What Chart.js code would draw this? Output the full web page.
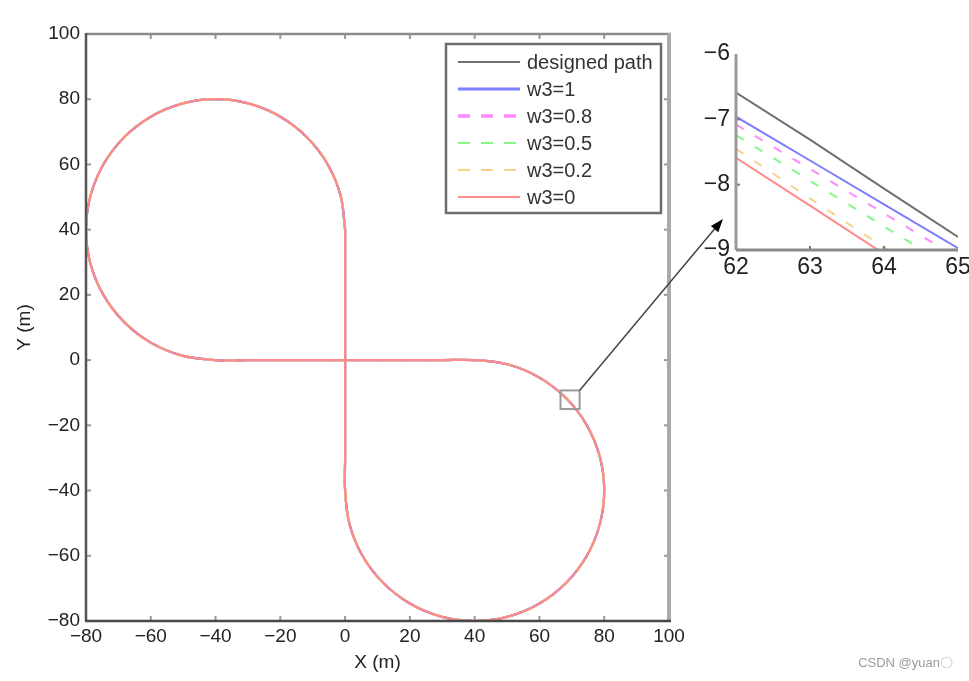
<!DOCTYPE html>
<html>
<head>
<meta charset="utf-8">
<script src="https://cdn.jsdelivr.net/npm/chart.js@4/dist/chart.umd.min.js"></script>
<style>
    body { margin: 0; background: #fff; }
    #wrap { position: relative; width: 969px; height: 681px; }
    #wrap canvas { position: absolute; left: 0; top: 0; }
</style>
</head>
<body>
<div id="wrap">
    <canvas id="mainPlot" width="969" height="681"></canvas>
    <canvas id="zoomPlot" width="969" height="681"></canvas>
</div>
<script>
// series names
const seriesLabels = ['designed path', 'w3=1', 'w3=0.8', 'w3=0.5', 'w3=0.2', 'w3=0']

// figure-eight path (m)
const pathX = [
    0, -1.36, -5.36, -11.72, -20, -29.65, -40, -50.35, -60, -68.28, -74.64, -78.64,
    -80, -78.64, -74.64, -68.28, -60, -50.35, -40,
    -30, -20, -10, 0, 10, 20, 30,
    40, 50.35, 60, 68.28, 74.64, 78.64, 80, 78.64, 74.64, 68.28, 60, 50.35,
    40, 29.65, 20, 11.72, 5.36, 1.36, 0,
    0, 0, 0, 0, 0, 0, 0, 0,
]
const pathY = [
    40, 50.35, 60, 68.28, 74.64, 78.64, 80, 78.64, 74.64, 68.28, 60, 50.35,
    40, 29.65, 20, 11.72, 5.36, 1.36, 0,
    0, 0, 0, 0, 0, 0, 0,
    0, -1.36, -5.36, -11.72, -20, -29.65, -40, -50.35, -60, -68.28, -74.64, -78.64,
    -80, -78.64, -74.64, -68.28, -60, -50.35, -40,
    -30, -20, -10, 0, 10, 20, 30, 40,
]

// zoomed window (x 62..65)
const zoomX = [62, 63, 64, 65]
const zoomDesigned = [-6.59, -7.31, -8.06, -8.8]
const zoomW1 = [-6.96, -7.63, -8.3, -8.97]
const zoomW08 = [-7.08, -7.76, -8.44, -9.12]
const zoomW05 = [-7.24, -7.94, -8.64, -9.33]
const zoomW02 = [-7.45, -8.21, -8.96, -9.72]
const zoomW0 = [-7.59, -8.32, -9.06, -9.79]
const zoomSeries = [zoomDesigned, zoomW1, zoomW08, zoomW05, zoomW02, zoomW0]

// tick values
const mainTicks = [-80, -60, -40, -20, 0, 20, 40, 60, 80, 100]
const zoomXTicks = [62, 63, 64, 65]
const zoomYTicks = [-9, -8, -7, -6]

// line styles
const styles = [
    { color: '#707070', width: 2, dash: [] },
    { color: '#7d7dff', width: 3, dash: [] },
    { color: '#ff88ff', width: 3.5, dash: [12, 11] },
    { color: '#86f786', width: 2, dash: [12, 11] },
    { color: '#f7d38a', width: 2, dash: [12, 11] },
    { color: '#ff8a8a', width: 2, dash: [] },
]

const FONT = "'Liberation Sans', Arial, sans-serif"
const minus = v => (v < 0 ? '\u2212' + Math.abs(v) : '' + v)
const toPoints = (xs, ys) => xs.map((x, i) => ({ x: x, y: ys[i] }))

function fixedAxis(size) {
    return scale => {
        if (scale.isHorizontal()) scale.height = size
        else scale.width = size
        scale.paddingLeft = scale.paddingRight = 0
        scale.paddingTop = scale.paddingBottom = 0
    }
}

function line(ctx, x1, y1, x2, y2, color, w) {
    ctx.save()
    ctx.strokeStyle = color
    ctx.lineWidth = w
    ctx.beginPath()
    ctx.moveTo(x1, y1)
    ctx.lineTo(x2, y2)
    ctx.stroke()
    ctx.restore()
}

// frame, inner ticks, legend, marker box and arrow of the main plot
const mainDecor = {
    id: 'mainDecor',
    afterDatasetsDraw(chart) {
        const ctx = chart.ctx
        const a = chart.chartArea
        const sx = chart.scales.x
        const sy = chart.scales.y
        mainTicks.slice(1, -1).forEach(v => {
            const px = sx.getPixelForValue(v)
            const py = sy.getPixelForValue(v)
            line(ctx, px, a.bottom, px, a.bottom - 5, '#999', 2)
            line(ctx, px, a.top, px, a.top + 5, '#999', 2)
            line(ctx, a.left, py, a.left + 5, py, '#999', 2)
            line(ctx, a.right, py, a.right - 5, py, '#999', 2)
        })
        line(ctx, a.left, a.top, a.right + 2, a.top, '#8a8a8a', 2.5)
        line(ctx, a.right, a.top - 1, a.right, a.bottom, '#aaa', 4)
        line(ctx, a.left, a.top - 1, a.left, a.bottom, '#555', 2.5)
        line(ctx, a.left - 1, a.bottom, a.right + 2, a.bottom, '#484848', 2.5)

        // marker box
        const bx1 = sx.getPixelForValue(66.5)
        const bx2 = sx.getPixelForValue(72.4)
        const by1 = sy.getPixelForValue(-9.3)
        const by2 = sy.getPixelForValue(-15)
        ctx.save()
        ctx.strokeStyle = '#9a9a9a'
        ctx.lineWidth = 2
        ctx.strokeRect(bx1, by1, bx2 - bx1, by2 - by1)
        ctx.restore()

        // arrow towards the zoomed plot
        const tx = 723
        const ty = 219
        line(ctx, bx2, by1, tx - 6, ty + 7, '#444', 1.5)
        const ang = Math.atan2(ty - by1, tx - bx2)
        ctx.save()
        ctx.fillStyle = '#000'
        ctx.beginPath()
        ctx.moveTo(tx, ty)
        ctx.lineTo(tx - 14 * Math.cos(ang - 0.35), ty - 14 * Math.sin(ang - 0.35))
        ctx.lineTo(tx - 14 * Math.cos(ang + 0.35), ty - 14 * Math.sin(ang + 0.35))
        ctx.closePath()
        ctx.fill()
        ctx.restore()

        // legend
        const lx = a.right - 8 - 215
        const ly = a.top + 10
        ctx.save()
        ctx.fillStyle = '#fff'
        ctx.fillRect(lx, ly, 215, 169)
        ctx.strokeStyle = '#6e6e6e'
        ctx.lineWidth = 2.5
        ctx.strokeRect(lx, ly, 215, 169)
        ctx.font = '20px ' + FONT
        ctx.textBaseline = 'middle'
        chart.data.datasets.forEach((ds, i) => {
            const y = ly + 18 + i * 27
            ctx.strokeStyle = ds.borderColor
            ctx.lineWidth = styles[i].width
            ctx.setLineDash(ds.borderDash)
            ctx.beginPath()
            ctx.moveTo(lx + 12, y)
            ctx.lineTo(lx + 74, y)
            ctx.stroke()
            ctx.setLineDash([])
            ctx.fillStyle = '#333'
            ctx.fillText(ds.label, lx + 81, y + 1)
        })
        ctx.restore()

        // watermark
        ctx.save()
        ctx.font = '13px ' + FONT
        ctx.fillStyle = '#9a9a9a'
        ctx.textAlign = 'right'
        ctx.textBaseline = 'middle'
        ctx.fillText('CSDN @yuan\u3007', 953, 663)
        ctx.restore()
    },
}

const zoomDecor = {
    id: 'zoomDecor',
    afterDatasetsDraw(chart) {
        const ctx = chart.ctx
        const a = chart.chartArea
        zoomXTicks.slice(1, -1).forEach(v => {
            const px = chart.scales.x.getPixelForValue(v)
            line(ctx, px, a.bottom, px, a.bottom - 4, '#777', 2)
        })
        zoomYTicks.slice(1, -1).forEach(v => {
            const py = chart.scales.y.getPixelForValue(v)
            line(ctx, a.left, py, a.left + 4, py, '#777', 2)
        })
        line(ctx, a.left, a.top, a.left, a.bottom, '#9a9a9a', 3)
        line(ctx, a.left, a.bottom, a.right, a.bottom, '#8a8a8a', 3)
    },
}

const tickFont = size => ({ family: FONT, size: size })

/**
 *  Main plot
 */
const mainPlot = new Chart(document.getElementById('mainPlot').getContext('2d'), {
    type: 'scatter',
    data: {
        datasets: seriesLabels.map((label, i) => ({
            label: label,
            data: toPoints(pathX, pathY),
            showLine: true,
            tension: 0.34,
            pointRadius: 0,
            borderColor: styles[i].color,
            borderWidth: 2.2,
            borderDash: styles[i].dash,
            order: seriesLabels.length - i,
        })),
    },
    options: {
        responsive: false,
        animation: false,
        events: [],
        layout: { padding: { left: 0, top: 34, right: 300, bottom: 0 } },
        plugins: { legend: { display: false }, tooltip: { enabled: false } },
        scales: {
            x: {
                type: 'linear',
                min: -80,
                max: 100,
                afterFit: fixedAxis(60),
                afterBuildTicks: s => { s.ticks = mainTicks.map(v => ({ value: v })) },
                grid: { display: false, drawTicks: false },
                border: { display: false },
                ticks: { color: '#222', font: tickFont(19), padding: 4, callback: minus },
                title: { display: true, text: 'X (m)', color: '#222', font: tickFont(19), padding: { top: 0, bottom: 7 } },
            },
            y: {
                type: 'linear',
                min: -80,
                max: 100,
                afterFit: fixedAxis(86),
                afterBuildTicks: s => { s.ticks = mainTicks.map(v => ({ value: v })) },
                grid: { display: false, drawTicks: false },
                border: { display: false },
                ticks: { color: '#222', font: tickFont(19), padding: 6, callback: minus },
                title: { display: true, text: 'Y (m)', color: '#222', font: tickFont(19), padding: { top: 13, bottom: 0 } },
            },
        },
    },
    plugins: [mainDecor],
})

/**
 *  Zoomed plot
 */
const zoomPlot = new Chart(document.getElementById('zoomPlot').getContext('2d'), {
    type: 'line',
    data: {
        datasets: seriesLabels.map((label, i) => ({
            label: label,
            data: toPoints(zoomX, zoomSeries[i]),
            pointRadius: 0,
            borderColor: styles[i].color,
            borderWidth: 2,
            borderDash: i >= 2 && i <= 4 ? [9, 13] : [],
        })),
    },
    options: {
        responsive: false,
        animation: false,
        events: [],
        layout: { padding: { left: 690, top: 54, right: 11, bottom: 0 } },
        plugins: { legend: { display: false }, tooltip: { enabled: false } },
        scales: {
            x: {
                type: 'linear',
                min: 62,
                max: 65,
                afterFit: fixedAxis(431),
                afterBuildTicks: s => { s.ticks = zoomXTicks.map(v => ({ value: v })) },
                grid: { display: false, drawTicks: false },
                border: { display: false },
                ticks: { color: '#222', font: tickFont(23), padding: 4 },
            },
            y: {
                type: 'linear',
                min: -9,
                max: -6,
                afterFit: fixedAxis(46),
                afterBuildTicks: s => { s.ticks = zoomYTicks.map(v => ({ value: v })) },
                grid: { display: false, drawTicks: false },
                border: { display: false },
                ticks: { color: '#222', font: tickFont(23), padding: 6, callback: minus },
            },
        },
    },
    plugins: [zoomDecor],
})
</script>
</body>
</html>
